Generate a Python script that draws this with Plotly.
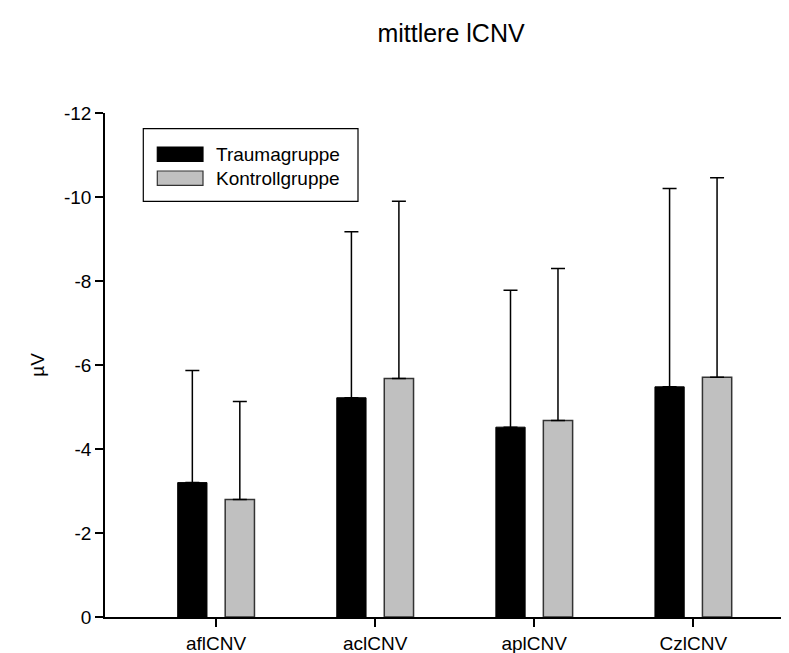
import plotly.graph_objects as go

categories = ["aflCNV", "aclCNV", "aplCNV", "CzlCNV"]
trauma_mean = [-3.2, -5.22, -4.52, -5.48]
trauma_sd = [2.67, 3.95, 3.26, 4.72]
kontroll_mean = [-2.8, -5.68, -4.68, -5.71]
kontroll_sd = [2.33, 4.22, 3.62, 4.75]
series_names = ["Traumagruppe", "Kontrollgruppe"]
y_tickvals = [0, -2, -4, -6, -8, -10, -12]
y_ticktext = ["0", "-2", "-4", "-6", "-8", "-10", "-12"]

W, H = 789, 653
ML, MR, MT, MB = 97, 0, 105, 44
PW, PH = W - ML - MR, H - MT - MB
FONT = "Liberation Sans, Arial, sans-serif"
colors = ["#000000", "#c0c0c0"]
edges = ["#000000", "#333333"]

xpos = list(range(len(categories)))

fig = go.Figure()
for name, mean, sd, off, col, edge in [
    (series_names[0], trauma_mean, trauma_sd, -0.241, colors[0], edges[0]),
    (series_names[1], kontroll_mean, kontroll_sd, 0.0575, colors[1], edges[1]),
]:
    fig.add_trace(go.Bar(
        x=xpos, y=mean, name=name, width=0.184, offset=off,
        marker=dict(color=col, line=dict(color=edge, width=1.5 if col != "#000000" else 1)),
        error_y=dict(type="data", symmetric=False, array=[0] * len(sd),
                     arrayminus=sd, color="#000000", thickness=1.5, width=7),
        showlegend=False,
    ))

def px(x):
    return (x - ML) / PW

def py(y):
    return (H - MB - y) / PH

# legend box drawn in paper coordinates
shapes = [dict(type="rect", xref="paper", yref="paper",
               x0=px(135.3), x1=px(350), y0=py(193.3), y1=py(120.7),
               line=dict(color="#000000", width=1.2), fillcolor="white", layer="above")]
annotations = []
for i, name in enumerate(series_names):
    top = 139 + i * 24
    shapes.append(dict(type="rect", xref="paper", yref="paper",
                       x0=px(149.3), x1=px(195), y0=py(top + 14.3), y1=py(top),
                       line=dict(color=edges[i], width=1.2), fillcolor=colors[i], layer="above"))
    annotations.append(dict(text=name, xref="paper", yref="paper",
                            x=px(206), y=py(top + 7), xanchor="left", yanchor="middle",
                            showarrow=False, font=dict(size=19, family=FONT, color="#000000")))

fig.update_layout(
    width=W, height=H,
    margin=dict(l=ML, r=MR, t=MT, b=MB),
    paper_bgcolor="white", plot_bgcolor="white",
    barmode="overlay",
    font=dict(family=FONT, size=19, color="#000000"),
    title=dict(text="mittlere lCNV", x=0.5, xref="paper", xanchor="center",
               y=1 - 25 / H, yref="container", yanchor="middle",
               font=dict(size=25, family=FONT, color="#000000")),
    showlegend=False,
    shapes=shapes,
    annotations=annotations,
    xaxis=dict(range=[-0.698, 3.652], tickvals=xpos, ticktext=categories,
               showline=True, linecolor="#000000", linewidth=1.5,
               ticks="outside", ticklen=8, tickwidth=1.5, tickcolor="#000000",
               showgrid=False, zeroline=False, fixedrange=True),
    yaxis=dict(range=[0, -12], tickvals=y_tickvals, ticktext=y_ticktext,
               showline=True, linecolor="#000000", linewidth=1.5,
               ticks="outside", ticklen=8, tickwidth=1.5, tickcolor="#000000",
               showgrid=False, zeroline=False,
               title=dict(text="µV", standoff=14, font=dict(size=19, family=FONT))),
)

fig.write_html("out.html")
